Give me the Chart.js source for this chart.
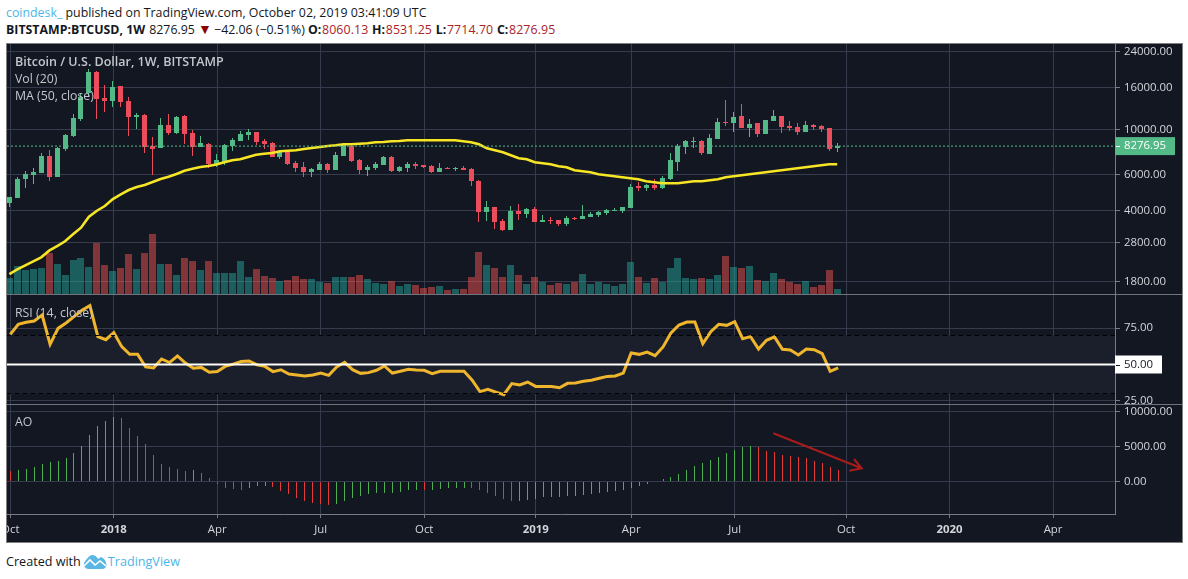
<!DOCTYPE html>
<html>
<head>
<meta charset="utf-8">
<title>BTCUSD 1W</title>
<script src="https://cdn.jsdelivr.net/npm/chart.js@4/dist/chart.umd.js"></script>
<style>
  html, body { margin: 0; padding: 0; background: #fff; overflow: hidden; }
  body { width: 1188px; height: 579px; position: relative; font-family: "Open Sans", sans-serif; }
  .line { position: absolute; left: 6px; white-space: pre; color: #131722; }
  #line1 { top: 4px; font-size: 12.35px; }
  #line2 { top: 21px; font-size: 12.35px; }
  #line1 .who { color: #4db6e8; }
  #line2 b { font-weight: 700; }
  #line2 .last { margin-left: 4px; }
  #line2 .key { margin-right: .7px; }
  #line2 .val { color: #a8232a; letter-spacing: .1px; margin-right: .5px; }
  #line2 .down { color: #8b0000; font-size: 14px; line-height: 12px; margin-right: -1px; }
  #box { position: absolute; left: 6px; top: 43px; width: 1175px; height: 498px; border: 1px solid #808080; background: #131722; overflow: hidden; }
  #box canvas { position: absolute; left: 0; }
  .sep { position: absolute; left: 0; width: 1175px; height: 1px; background: #6f737d; }
  .pane-label { position: absolute; left: 8px; font-size: 12.3px; color: #c3c6cd; white-space: pre; pointer-events: none; }
  #footer { position: absolute; left: 6px; top: 553px; font-size: 12.6px; color: #131722; white-space: pre; }
  #footer .tv { color: #4db6e8; }
  #footer svg { vertical-align: -3px; margin: 0 1px 0 2px; }
</style>
</head>
<body>
<div class="line" id="line1"><span class="who">coindesk_</span> published on TradingView.com, October 02, 2019 03:41:09 UTC</div>
<div class="line" id="line2"><b>BITSTAMP:BTCUSD, 1W</b><span class="last">8276.95</span> <span class="down">▼</span> −42.06 (−0.51%) <b class="key">O:</b><span class="val">8060.13</span> <b class="key">H:</b><span class="val">8531.25</span> <b class="key">L:</b><span class="val">7714.70</span> <b class="key">C:</b><span class="val">8276.95</span></div>
<div id="box">
  <canvas id="priceChart" width="1175" height="251" style="top:0"></canvas>
  <canvas id="rsiChart" width="1175" height="109" style="top:251px"></canvas>
  <canvas id="aoChart" width="1175" height="138" style="top:360px"></canvas>
  <div class="sep" style="top:250px"></div>
  <div class="sep" style="top:360px"></div>
  <div class="pane-label" style="top:9px;font-weight:600;font-size:12.5px">Bitcoin / U.S. Dollar, 1W, BITSTAMP</div>
  <div class="pane-label" style="top:26px">Vol (20)</div>
  <div class="pane-label" style="top:43px">MA (50, close)</div>
  <div class="pane-label" style="top:260px">RSI (14, close)</div>
  <div class="pane-label" style="top:369px">AO</div>
</div>
<div id="footer">Created with<svg width="24" height="15" viewBox="0 0 24 15"><path d="M1 9Q6 1 9 1Q13 1 15 5L18 3Q23 5 23.5 11Q23 15 19 15L5 15Q0 14 1 9Z" fill="#5ab7e4"/><path d="M1 12L7 6L12 11L17 7L23 12" fill="none" stroke="#fff" stroke-width="1.6"/></svg><span class="tv">TradingView</span></div>
<script>
// weekly candles, 2 Oct 2017 .. 30 Sep 2019
const opens = [4365,4618,5718,5981,6117,7407,5868,8012,9272,11190,
  14990,19050,14220,13745,16270,13745,11484,11745,8287,8103,
  10493,9591,11613,9591,8195,8476,6768,6923,8287,8767,
  9378,9700,8767,8572,7324,7748,6845,6544,6187,6327,
  6768,6327,7407,8287,7080,6327,6471,6693,7324,6256,
  6471,6768,6693,6618,6187,6471,6398,6471,6398,5591,
  3944,4173,3565,3222,3989,3857,4080,3525,3605,3605,
  3446,3687,3645,3729,3813,3900,3989,3989,4127,5285,
  5168,5344,5168,5718,6923,8195,8669,8767,7575,8966,
  10853,10731,11613,10150,10731,9484,10977,11613,10375,10260,
  9700,10493,10375,10150,8060.13];
const highs = [4685,5868,6256,6450,7635,7924,8195,9484,11878,14990,
  19700,19330,16460,17215,16350,14340,12050,11878,9169,11356,
  11878,11613,11745,9920,9272,8572,7575,8476,9067,9809,
  10031,9750,8966,8669,7924,7835,7000,6923,6471,6923,
  6845,7748,8572,8381,7161,6693,6923,7407,7407,6600,
  6923,6923,6720,6693,6845,6544,6544,6618,6471,5654,
  4464,4173,3645,4220,4315,4127,4173,3813,3729,3605,
  3770,3729,4267,3944,3989,4080,4127,4173,5405,5528,
  5405,5718,5914,7661,8476,8866,9169,8866,9484,11356,
  13900,12150,13272,11228,10731,11100,12425,11613,10977,10731,
  10977,10612,10493,10150,8531.25];
const lows = [4173,4620,5168,5405,6117,5591,5868,7835,9200,11010,
  14430,11228,12150,12848,12848,9272,10031,7661,5981,8103,
  9378,9484,8476,7407,8195,6471,6544,6693,7835,8767,
  8866,8381,8012,7300,7161,6693,6187,5848,5848,6327,
  6117,6327,7407,6923,6028,5914,6327,6693,6187,6200,
  6187,6398,6471,6117,6187,6398,6256,6327,5285,3525,
  3565,3258,3186,3222,3605,3687,3525,3525,3446,3370,
  3370,3605,3645,3729,3729,3813,3989,3900,4127,4995,
  4995,5052,5110,5654,6256,7575,8103,7490,7575,8966,
  10375,9700,10150,9169,9169,9484,10977,9591,9809,9378,
  9700,9920,9700,7835,7714.70];
const closes = [4670,5700,6028,6187,7407,5868,8103,9378,11356,14340,
  19050,14060,13745,16040,13635,11484,11745,8195,8012,10493,
  9591,11484,9484,8195,8572,6768,7080,8381,8866,9484,
  9700,8669,8476,7324,7748,6768,6471,6187,6398,6768,
  6327,7490,8476,7000,6327,6544,6768,7324,6256,6570,
  6768,6618,6544,6187,6471,6398,6471,6327,5591,3944,
  4173,3525,3222,3989,3857,4080,3525,3605,3565,3446,
  3687,3645,3770,3857,3944,4034,4034,4173,5226,5168,
  5344,5168,5782,7080,8287,8767,8767,7661,9067,10853,
  10731,11484,10150,10612,9484,11100,11613,10260,10150,9700,
  10493,10260,10031,8012,8276.95];
const volumes = [17.3,29,25.3,26.3,27.3,42.3,31.3,20.3,35.3,37.3,
  28.3,52.3,30.3,24.3,27.3,41.3,26.3,42.3,61.3,31.3,
  31.3,20.3,37.3,34.3,25.3,34.3,22.3,22.3,22.3,34.3,
  18.3,26.3,19.3,17.3,14.3,15.3,19.3,16.3,16.3,13.3,
  12.3,18.3,18.3,18.3,20.3,16.3,12.3,11.3,14.3,9.3,
  11.3,10.3,7.3,8.3,9.3,5.3,6.3,6.3,18.3,43.3,
  30.3,27.3,18.3,30.3,20.3,11.3,18.3,13.3,10.3,12.3,
  11.3,13.3,21.3,11.3,13.3,11.3,9.3,11.3,33.3,18.3,
  12.3,17.3,13.3,27.3,37.3,17.3,16.3,17.3,16.3,20.3,
  39.3,28.3,27.3,29.3,15.3,14.3,22.3,16.3,13.3,11.3,
  14,8,10,25,6];
const ma50 = [1963,2070,2166,2266,2370,2553,2691,2837,3070,3306,
  3740,4002,4220,4565,4814,5052,5226,5344,5528,5718,
  5868,6048,6278,6420,6544,6618,6735,6900,7056,7140,
  7324,7515,7600,7661,7810,7862,7897,8012,8103,8195,
  8287,8352,8448,8448,8505,8545,8640,8669,8738,8767,
  8836,8836,8836,8836,8836,8836,8836,8738,8640,8448,
  8075,7897,7722,7465,7218,7140,6900,6822,6745,6595,
  6520,6305,6235,6165,6028,5960,5895,5830,5765,5699,
  5572,5509,5447,5447,5447,5509,5572,5572,5635,5699,
  5830,5895,5960,6028,6095,6165,6235,6305,6375,6450,
  6520,6595,6670,6745,6745];
const rsi = [70.8,77.7,79.1,80,84.1,63.9,74.9,78.6,83,87.4,
  90.6,69.2,67.1,72,62.3,57,57,48.3,47.6,53.8,
  51.3,55.9,51,47.4,48,44.6,45.1,48.7,50.3,52,
  52.4,49.7,48.7,45.1,46.4,43.4,42.8,42.1,42.8,44.1,
  42.5,48.3,51.5,46.4,43.9,44.4,46,49,44.1,45.3,
  46.7,46.2,46,43.7,45.3,45.3,45.3,45.3,39.3,31.3,
  32.9,31,29.2,36.8,35.9,37.9,34.9,34.9,34.9,34,
  37,37.2,38.4,39.1,40.5,41.8,42.1,44.1,57.9,57,
  58.6,56.1,62.1,71.7,77.2,79.3,79.3,64.4,72.6,77.7,
  77,79.5,67.8,69.2,60.7,66.7,69,60.5,60,56.6,
  60.7,60.2,57.5,45.3,47.6];
const ao = [1476,1618,1761,2047,2475,2761,2904,3332,4046,5046,
  6616,7902,8616,9187,9044,7616,6474,5331,3760,2475,
  2047,1761,1476,1618,1190,476,-381,-952,-1095,-1238,
  -952,-666,-666,-809,-1380,-1809,-2380,-2808,-3094,-3237,
  -3380,-3237,-2808,-2380,-2094,-1809,-1666,-1666,-1666,-1523,
  -1238,-1238,-1280,-1238,-1095,-952,-940,-930,-952,-1238,
  -1666,-2094,-2523,-2830,-2808,-2666,-2523,-2237,-2237,-2237,
  -2094,-2094,-1952,-1809,-1666,-1523,-1380,-1238,-952,-666,
  -381,0,333,619,1047,1618,2190,2618,3046,3475,
  4046,4474,4903,5046,4903,4332,4189,3760,3618,3475,
  3332,2904,2618,2047,1618];

const tickIdx = [0,13,26,39,52,66,78,91,105,118,131];
const tickNames = ['Oct','2018','Apr','Jul','Oct','2019','Apr','Jul','Oct','2020','Apr'];
const priceTicks = [24000,16000,10000,6000,4000,2800,1800];
const rsiTicks = [25,50,75];
const aoTicks = [0,5000,10000];
const arrowX = [95.85,106.96];
const arrowY = [6857,1857];
const arrowHeadX = [105.99,106.96,105.4];
const arrowHeadY = [3186,1857,1514];

const xMin = -0.415, xMax = 138.78;
const candleShift = -0.12; // candles sit 1px left of the grid in the original
const grid = '#363c4e', edge = '#787b86', labelCol = '#d3d5da';
const green = '#53b987', red = '#eb4d5c';
const isUp = closes.map((c, i) => c >= opens[i]);
const labelFont = { family: '"Open Sans", sans-serif', size: 11.4 };

function flatLine(value, style) {
  return Object.assign({
    type: 'line',
    data: [{ x: xMin, y: value }, { x: xMax, y: value }],
    pointRadius: 0,
    borderWidth: 1
  }, style);
}

function yAxis(extra, tickList) {
  return Object.assign({
    position: 'right',
    afterBuildTicks: s => { s.ticks = tickList.map(value => ({ value })); },
    afterFit: s => { s.width = 67; s.paddingTop = 0; s.paddingBottom = 0; },
    grid: { color: grid, tickColor: edge, tickLength: 5 },
    border: { color: edge },
    ticks: {
      color: labelCol, font: labelFont, padding: 4, autoSkip: false,
      callback: v => Number(v).toFixed(2)
    }
  }, extra);
}

function xAxis(showLabels) {
  return {
    type: 'linear', min: xMin, max: xMax, offset: false,
    afterBuildTicks: s => { s.ticks = tickIdx.map(value => ({ value })); },
    afterFit: s => {
      s.height = showLabels ? 28 : 0;
      s.paddingLeft = 0; s.paddingRight = 0;
    },
    grid: { offset: false, color: grid, tickColor: edge, tickLength: 4, drawTicks: showLabels },
    border: { display: showLabels, color: edge },
    ticks: {
      display: showLabels, autoSkip: false, maxRotation: 0, padding: 5, color: labelCol,
      font: ctx => ({
        family: labelFont.family, size: labelFont.size,
        weight: ctx.tick && (ctx.tick.value === 13 || ctx.tick.value === 66 || ctx.tick.value === 118) ? '700' : '400'
      }),
      callback: v => tickNames[tickIdx.indexOf(v)]
    }
  };
}

// coloured value tag on the price axis
const tagPlugin = {
  id: 'tag',
  afterDraw(chart, args, o) {
    if (!o.text) return;
    const ctx = chart.ctx, yPx = chart.scales.y.getPixelForValue(o.value), x = chart.chartArea.right;
    ctx.save();
    ctx.fillStyle = o.bg;
    ctx.fillRect(x, yPx - o.h / 2, o.w, o.h);
    ctx.fillStyle = o.fg;
    ctx.fillRect(x + 1, Math.round(yPx), 4, 1);
    ctx.font = '11.4px "Open Sans", sans-serif';
    ctx.textBaseline = 'middle';
    ctx.fillText(o.text, x + 9, yPx);
    ctx.restore();
  }
};
// keep the thin bars on whole pixels so they stay crisp
const snapPlugin = {
  id: 'snapBars',
  afterDatasetsUpdate(chart) {
    chart.getSortedVisibleDatasetMetas().forEach(meta => {
      if (meta.type !== 'bar') return;
      meta.data.forEach(el => {
        el.x = Math.floor(el.x) + 0.5;
        el.y = Math.round(el.y);
        el.base = Math.round(el.base);
      });
    });
  }
};
Chart.register(tagPlugin, snapPlugin);

const baseOpts = {
  responsive: false, animation: false, events: [],
  layout: { padding: 0 },
  plugins: { legend: { display: false }, tooltip: { enabled: false } }
};

new Chart(document.getElementById('priceChart'), {
  type: 'bar',
  data: {
    datasets: [
      flatLine(closes[104], { borderColor: green, borderDash: [2, 2], order: 0 }),
      {
        type: 'line', order: 1, borderColor: '#f7e625', borderWidth: 2.6, pointRadius: 0, tension: 0,
        data: ma50.map((y, i) => ({ x: i + candleShift, y }))
      },
      {
        order: 2, grouped: false, barThickness: 5, inflateAmount: 0,
        backgroundColor: isUp.map(u => u ? green : red),
        data: opens.map((o, i) => ({ x: i + candleShift, y: [o, closes[i]] }))
      },
      {
        order: 3, grouped: false, barThickness: 1, inflateAmount: 0,
        backgroundColor: isUp.map(u => u ? green : red),
        data: lows.map((l, i) => ({ x: i + candleShift, y: [l, highs[i]] }))
      },
      {
        order: 4, grouped: false, barThickness: 7, inflateAmount: 0, yAxisID: 'vol',
        backgroundColor: isUp.map(u => u ? 'rgba(38,166,154,.5)' : 'rgba(239,83,80,.5)'),
        data: volumes.map((v, i) => ({ x: i + candleShift, y: v }))
      }
    ]
  },
  options: Object.assign({}, baseOpts, {
    plugins: Object.assign({}, baseOpts.plugins, {
      tag: { value: closes[104], text: closes[104].toFixed(2), bg: green, fg: '#fff', w: 60, h: 18 }
    }),
    scales: {
      x: xAxis(false),
      y: yAxis({ type: 'logarithmic', min: 1551, max: 26100 }, priceTicks),
      vol: { axis: 'y', display: false, position: 'left', min: 0, max: 251 }
    }
  })
});

new Chart(document.getElementById('rsiChart'), {
  type: 'line',
  data: {
    datasets: [
      flatLine(50, { borderColor: '#ffffff', borderWidth: 2, order: 0 }),
      flatLine(70, { borderColor: '#000000', borderDash: [4, 4], order: 1, fill: { target: { value: 30 } }, backgroundColor: '#1b1f2b' }),
      flatLine(30, { borderColor: '#000000', borderDash: [4, 4], order: 1 }),
      {
        order: 2, borderColor: '#efb52c', borderWidth: 3, pointRadius: 0, tension: 0,
        data: rsi.map((y, i) => ({ x: i, y }))
      }
    ]
  },
  options: Object.assign({}, baseOpts, {
    plugins: Object.assign({}, baseOpts.plugins, {
      filler: { drawTime: 'beforeDatasetsDraw' },
      tag: { value: 50, text: '50.00', bg: '#ffffff', fg: '#131722', w: 47, h: 18 }
    }),
    scales: {
      x: xAxis(false),
      y: yAxis({ min: 22.76, max: 97.93 }, rsiTicks)
    }
  })
});

// AO colour follows rising / falling bars
const aoColors = [];
ao.forEach((v, i) => {
  if (i === 0) aoColors.push('#e53935');
  else if (v > ao[i - 1]) aoColors.push('#4caf50');
  else if (v < ao[i - 1]) aoColors.push('#e53935');
  else aoColors.push(aoColors[i - 1]);
});

new Chart(document.getElementById('aoChart'), {
  type: 'bar',
  data: {
    datasets: [
      {
        type: 'line', order: 0, borderColor: '#a81c1c', borderWidth: 2, pointRadius: 0, tension: 0,
        data: arrowX.map((x, i) => ({ x, y: arrowY[i] }))
      },
      {
        type: 'line', order: 0, borderColor: '#a81c1c', borderWidth: 2, pointRadius: 0, tension: 0,
        clip: false,
        data: arrowHeadX.map((x, i) => ({ x, y: arrowHeadY[i] }))
      },
      {
        order: 1, grouped: false, barThickness: 1, inflateAmount: 0, backgroundColor: aoColors,
        data: ao.map((y, i) => ({ x: i, y }))
      }
    ]
  },
  options: Object.assign({}, baseOpts, {
    scales: {
      x: xAxis(true),
      y: yAxis({ min: -4671, max: 11043 }, aoTicks)
    }
  })
});
</script>
</body>
</html>
